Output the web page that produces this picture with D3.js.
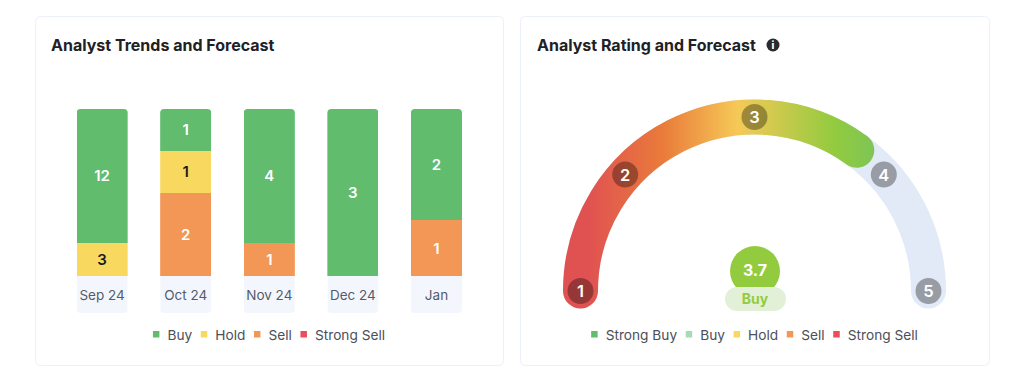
<!DOCTYPE html>
<html>
<head>
<meta charset="utf-8">
<script src="https://cdn.jsdelivr.net/npm/d3@7"></script>
<style>
  body { margin: 0; background: #fff; }
  svg { display: block; font-family: Inter, "Noto Sans", sans-serif; }
</style>
</head>
<body>
<div id="chart"></div>
<script>
// Data
var months = ["Sep 24", "Oct 24", "Nov 24", "Dec 24", "Jan"];
var buy = [12, 1, 4, 3, 2];
var hold = [3, 1, 0, 0, 0];
var sell = [0, 2, 1, 0, 1];
var strongSell = [0, 0, 0, 0, 0];

var ratingTicks = [1, 2, 3, 4, 5];
var ratingValue = 3.7;
var ratingLabel = "Buy";
var ratingFillShare = 0.7; // share of the half circle that is coloured

var trendLegend = ["Buy", "Hold", "Sell", "Strong Sell"];
var ratingLegend = ["Strong Buy", "Buy", "Hold", "Sell", "Strong Sell"];

var colors = {
    "Strong Buy": "#61bc6e",
    "Buy": "#61bc6e",
    "Hold": "#f9d85f",
    "Sell": "#f29756",
    "Strong Sell": "#ee4c5b"
};
var ratingColors = Object.assign({}, colors, {"Buy": "#a5dcb6"});

var width = 1024,
    height = 392;

var svg = d3.select("#chart").append("svg")
    .attr("width", width)
    .attr("height", height);

var defs = svg.append("defs");

// Cards
var cards = [
    {x: 35.5, w: 468, title: "Analyst Trends and Forecast", titleX: 51},
    {x: 520.5, w: 469, title: "Analyst Rating and Forecast", titleX: 537}
];
svg.selectAll(".card")
    .data(cards)
    .enter().append("rect")
    .attr("class", "card")
    .attr("x", function(d) { return d.x; })
    .attr("y", 16.5)
    .attr("width", function(d) { return d.w; })
    .attr("height", 349)
    .attr("rx", 5)
    .attr("fill", "#fff")
    .attr("stroke", "#ecf0fa");

svg.selectAll(".title")
    .data(cards)
    .enter().append("text")
    .attr("class", "title")
    .attr("x", function(d) { return d.titleX; })
    .attr("y", 51)
    .attr("font-size", 16)
    .attr("font-weight", 700)
    .attr("fill", "#1e2126")
    .text(function(d) { return d.title; });

// Info icon next to the second title
var info = svg.append("g").attr("transform", "translate(773,45)");
info.append("circle").attr("r", 6.5).attr("fill", "#2a2a2c");
info.append("text")
    .attr("text-anchor", "middle")
    .attr("y", 3.6)
    .attr("font-size", 10)
    .attr("font-weight", 800)
    .attr("fill", "#fff")
    .text("i");

// Stacked bars, every column filled to 100%
var barTop = 109,
    barBottom = 276,
    labelBottom = 313;

var x = d3.scaleBand()
    .domain(months)
    .range([76.6, 462])
    .paddingInner(0.389)
    .paddingOuter(0);

var y = d3.scaleLinear()
    .domain([0, 1])
    .range([barBottom, barTop]);

var rows = months.map(function(m, i) {
    return {month: m, "Buy": buy[i], "Hold": hold[i], "Sell": sell[i], "Strong Sell": strongSell[i]};
});

var stacked = d3.stack()
    .keys(trendLegend.slice().reverse())
    .offset(d3.stackOffsetExpand)(rows);

// Each column is clipped so the bar and its label box share rounded corners
months.forEach(function(m, i) {
    defs.append("clipPath")
        .attr("id", "col-" + i)
        .append("rect")
        .attr("x", x(m))
        .attr("y", barTop)
        .attr("width", x.bandwidth())
        .attr("height", labelBottom - barTop)
        .attr("rx", 4);
});

var columns = svg.selectAll(".column")
    .data(months)
    .enter().append("g")
    .attr("class", "column")
    .attr("clip-path", function(d, i) { return "url(#col-" + i + ")"; });

columns.append("rect")
    .attr("x", function(d) { return x(d); })
    .attr("y", barBottom)
    .attr("width", x.bandwidth())
    .attr("height", labelBottom - barBottom)
    .attr("fill", "#f3f7fd");

stacked.forEach(function(layer) {
    columns.append("rect")
        .attr("x", function(d) { return x(d); })
        .attr("y", function(d, i) { return y(layer[i][1]); })
        .attr("width", x.bandwidth())
        .attr("height", function(d, i) { return y(layer[i][0]) - y(layer[i][1]); })
        .attr("fill", colors[layer.key])
        .attr("shape-rendering", "crispEdges");

    svg.append("g").selectAll("text")
        .data(layer.filter(function(d) { return d.data[layer.key] > 0; }))
        .enter().append("text")
        .attr("x", function(d) { return x(d.data.month) + x.bandwidth() / 2; })
        .attr("y", function(d) { return (y(d[0]) + y(d[1])) / 2 + 5.5; })
        .attr("text-anchor", "middle")
        .attr("font-size", 15)
        .attr("font-weight", 600)
        .attr("fill", layer.key === "Hold" ? "#1b1b1b" : "#fff")
        .text(function(d) { return d.data[layer.key]; });
});

// Month labels from a bottom axis
var xAxis = svg.append("g")
    .attr("transform", "translate(0," + (barBottom + 24) + ")")
    .call(d3.axisBottom(x).tickSize(0).tickPadding(0));
xAxis.select(".domain").remove();
xAxis.selectAll("text")
    .attr("dy", 0)
    .attr("y", 0)
    .attr("font-family", "Inter, 'Noto Sans', sans-serif")
    .attr("font-size", 13.5)
    .attr("fill", "#555b6b");

// Gauge
var cx = 754.5,
    cy = 291,
    radius = 174,
    band = 35;

// Ticks are not evenly spaced on the arc
var angle = d3.scaleLinear()
    .domain(ratingTicks)
    .range([0, 42, 90, 138, 180].map(function(d) { return d * Math.PI / 180; }));

var arcPath = function(a0, a1) {
    var p = d3.path();
    p.arc(cx, cy, radius, Math.PI + a0, Math.PI + a1);
    return p.toString();
};

var grad = defs.append("linearGradient")
    .attr("id", "gauge-grad")
    .attr("gradientUnits", "userSpaceOnUse")
    .attr("x1", 563).attr("y1", 0)
    .attr("x2", 875).attr("y2", 0);
[[0.08, "#e05252"], [0.32, "#e97b3a"], [0.56, "#f6c957"], [0.87, "#92cb3f"], [1, "#7ec556"]].forEach(function(s) {
    grad.append("stop").attr("offset", s[0]).attr("stop-color", s[1]);
});

svg.append("path")
    .attr("d", arcPath(angle(1), angle(5)))
    .attr("fill", "none")
    .attr("stroke", "#e2e9f7")
    .attr("stroke-width", band)
    .attr("stroke-linecap", "round");

svg.append("path")
    .attr("d", arcPath(angle(1), ratingFillShare * Math.PI))
    .attr("fill", "none")
    .attr("stroke", "url(#gauge-grad)")
    .attr("stroke-width", band)
    .attr("stroke-linecap", "round");

var nodes = svg.selectAll(".node")
    .data(ratingTicks)
    .enter().append("g")
    .attr("class", "node")
    .attr("transform", function(d) {
        var a = angle(d);
        return "translate(" + (cx - radius * Math.cos(a)) + "," + (cy - radius * Math.sin(a)) + ")";
    });

nodes.append("circle")
    .attr("r", 13)
    .attr("fill", "#000")
    .attr("fill-opacity", 0.33);

nodes.append("text")
    .attr("text-anchor", "middle")
    .attr("y", 6)
    .attr("font-size", 16.5)
    .attr("font-weight", 600)
    .attr("fill", "#fff")
    .text(function(d) { return d; });

// Score bubble
svg.append("circle")
    .attr("cx", 755)
    .attr("cy", 271)
    .attr("r", 25)
    .attr("fill", "#93cb3f");

svg.append("text")
    .attr("x", 755)
    .attr("y", 276)
    .attr("text-anchor", "middle")
    .attr("font-size", 16)
    .attr("font-weight", 700)
    .attr("fill", "#fff")
    .text(ratingValue);

svg.append("rect")
    .attr("x", 725)
    .attr("y", 287)
    .attr("width", 61)
    .attr("height", 24)
    .attr("rx", 12)
    .attr("fill", "#e3f0d8");

svg.append("text")
    .attr("x", 755)
    .attr("y", 304)
    .attr("text-anchor", "middle")
    .attr("font-size", 14)
    .attr("font-weight", 700)
    .attr("fill", "#93cb3f")
    .text(ratingLabel);

// Legends, laid out from the measured text widths and centred
function drawLegend(names, palette, center) {
    var g = svg.append("g");
    var pos = 0;
    names.forEach(function(name) {
        var item = g.append("g").attr("transform", "translate(" + pos + ",0)");
        item.append("rect")
            .attr("y", -9)
            .attr("width", 6.5)
            .attr("height", 6.5)
            .attr("fill", palette[name]);
        var label = item.append("text")
            .attr("x", 14.5)
            .attr("font-size", 13.7)
            .attr("fill", "#4b5059")
            .text(name);
        pos += 14.5 + label.node().getComputedTextLength() + 8.6;
    });
    g.attr("transform", "translate(" + (center - (pos - 8.6) / 2) + ",340)");
}
drawLegend(trendLegend, colors, 269);
drawLegend(ratingLegend, ratingColors, 754.5);
</script>
</body>
</html>
